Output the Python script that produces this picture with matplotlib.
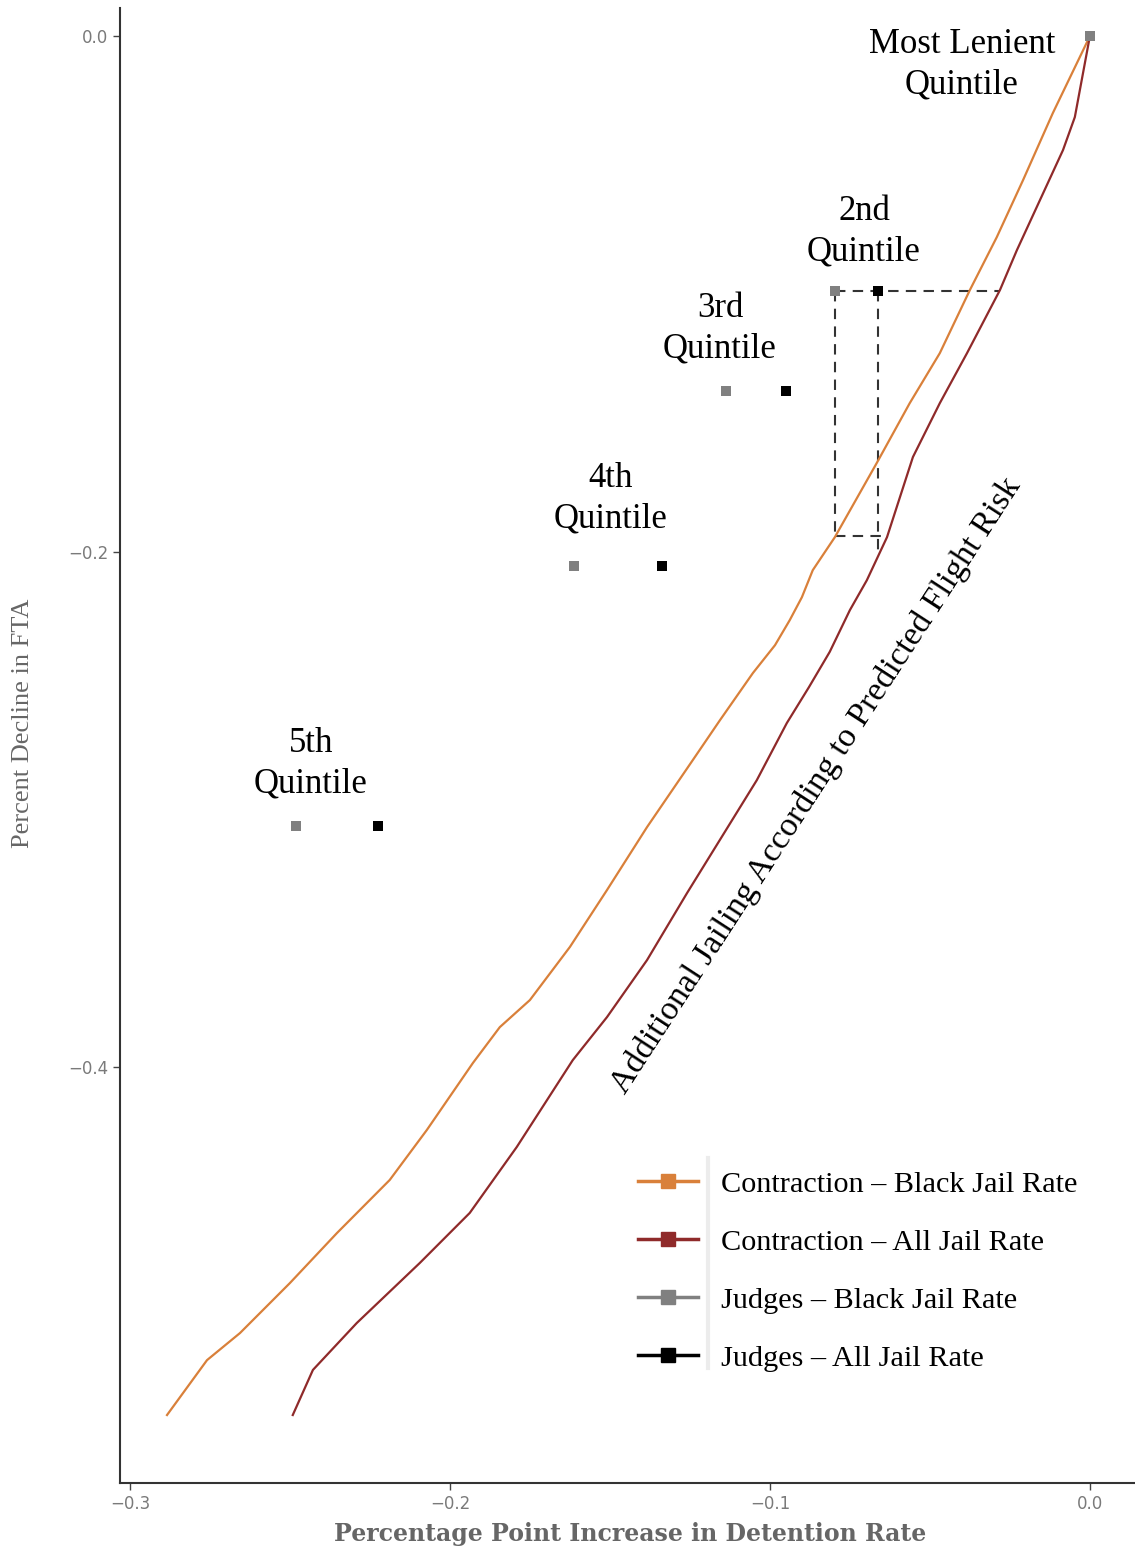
import matplotlib.pyplot as plt
import numpy as np
from matplotlib.lines import Line2D

# contraction curves: additional detention (x) vs change in FTA (y)
black_contraction_x = [0.0, -0.0116, -0.0209, -0.0291, -0.0375, -0.0469, -0.0563, -0.0666,
                       -0.0797, -0.0866, -0.0900, -0.0938, -0.0984, -0.1053, -0.1156, -0.1241,
                       -0.1384, -0.1509, -0.1625, -0.1750, -0.1844, -0.1928, -0.2072, -0.2188,
                       -0.2353, -0.2500, -0.2656, -0.2759, -0.2884]
black_contraction_y = [0.0, -0.0299, -0.0559, -0.0780, -0.0985, -0.1230, -0.1424, -0.1656,
                       -0.1944, -0.2072, -0.2177, -0.2266, -0.2363, -0.2471, -0.2654, -0.2809,
                       -0.3069, -0.3313, -0.3534, -0.3740, -0.3845, -0.3984, -0.4244, -0.4438,
                       -0.4644, -0.4838, -0.5032, -0.5137, -0.5350]
all_contraction_x = [0.0, -0.0047, -0.0084, -0.0166, -0.0228, -0.0281, -0.0384, -0.0469,
                     -0.0553, -0.0634, -0.0697, -0.0750, -0.0813, -0.0878, -0.0947, -0.1041,
                     -0.1259, -0.1384, -0.1509, -0.1616, -0.1791, -0.1938, -0.2094, -0.2291,
                     -0.2428, -0.2491]
all_contraction_y = [0.0, -0.0314, -0.0442, -0.0663, -0.0830, -0.0985, -0.1230, -0.1424,
                     -0.1633, -0.1944, -0.2111, -0.2227, -0.2389, -0.2526, -0.2665, -0.2887,
                     -0.3325, -0.3585, -0.3806, -0.3973, -0.4310, -0.4566, -0.4760, -0.4993,
                     -0.5175, -0.5350]

# judge leniency quintiles
quintile_labels = ["Most Lenient\nQuintile", "2nd\nQuintile", "3rd\nQuintile",
                   "4th\nQuintile", "5th\nQuintile"]
judges_fta = [0.0, -0.0989, -0.1377, -0.2056, -0.3065]
judges_black_x = [0.0, -0.0795, -0.1138, -0.1612, -0.2482]
judges_all_x = [0.0, -0.0661, -0.0951, -0.1338, -0.2226]

series_labels = ["Contraction \u2013 Black Jail Rate", "Contraction \u2013 All Jail Rate",
                 "Judges \u2013 Black Jail Rate", "Judges \u2013 All Jail Rate"]

ORANGE = "#d9803a"
DARKRED = "#8f2a2a"
GRAY = "#808080"
BLACK = "#000000"
SERIF = ["Liberation Serif", "DejaVu Serif"]

fig = plt.figure(figsize=(11.35, 15.51), dpi=100)
ax = fig.add_axes([0.1057, 0.0438, 0.8943, 0.951])

ax.plot(black_contraction_x, black_contraction_y, color=ORANGE, lw=1.6, zorder=3)
ax.plot(all_contraction_x, all_contraction_y, color=DARKRED, lw=1.6, zorder=3)

# dashed box around the 2nd quintile comparison
q2_y = judges_fta[1]
gx, bx = judges_black_x[1], judges_all_x[1]
ox_inc = np.array(black_contraction_x[::-1])
oy_inc = np.array(black_contraction_y[::-1])
ax_inc = np.array(all_contraction_x[::-1])
ay_inc = np.array(all_contraction_y[::-1])
red_at_q2 = np.interp(q2_y, ay_inc, ax_inc)
gray_low = np.interp(gx, ox_inc, oy_inc)
black_low = np.interp(bx, ax_inc, ay_inc)
red_at_low = np.interp(gray_low, ay_inc, ax_inc)
dash = dict(color="#333333", lw=1.5, ls=(0, (5, 3.5)), zorder=2)
ax.plot([gx, red_at_q2], [q2_y, q2_y], **dash)
ax.plot([gx, gx], [q2_y, gray_low], **dash)
ax.plot([bx, bx], [q2_y, black_low], **dash)
ax.plot([gx, red_at_low], [gray_low, gray_low], **dash)

ax.scatter(judges_all_x, judges_fta, marker="s", s=48, color=BLACK, zorder=4, lw=0)
ax.scatter(judges_black_x, judges_fta, marker="s", s=48, color=GRAY, zorder=4, lw=0)

label_pos = [(-0.0400, -0.0110), (-0.0706, -0.0758), (-0.1156, -0.1134),
             (-0.1497, -0.1794), (-0.2434, -0.2822)]
for txt, (tx, ty) in zip(quintile_labels, label_pos):
    ax.text(tx, ty, txt, ha="center", va="center", fontsize=25,
            family=SERIF, linespacing=1.3)

ax.text(-0.0856, -0.2906, "Additional Jailing According to Predicted Flight Risk",
        rotation=57, rotation_mode="anchor", ha="center", va="center",
        fontsize=24.5, family=SERIF)

handles = [
    Line2D([], [], color=ORANGE, lw=2.5, marker="s", ms=10),
    Line2D([], [], color=DARKRED, lw=2.5, marker="s", ms=10),
    Line2D([], [], color=GRAY, lw=2.5, marker="s", ms=10),
    Line2D([], [], color=BLACK, lw=2.5, marker="s", ms=10),
]
leg = ax.legend(handles, series_labels, loc="upper left", bbox_to_anchor=(0.510, 0.212),
                frameon=False, prop={"family": SERIF, "size": 21.8},
                handlelength=2.0, handletextpad=0.75, labelspacing=1.02,
                borderaxespad=0, borderpad=0)

# light separator strip beside the legend labels
fig.add_artist(Line2D([708 / 1135, 708 / 1135], [1 - 1158 / 1551, 1 - 1368 / 1551],
                      color="#ececec", lw=3))

ax.set_xlim(-0.3031, 0.0141)
ax.set_ylim(-0.5614, 0.0109)
ax.set_xticks([-0.3, -0.2, -0.1, 0.0])
ax.set_yticks([0.0, -0.2, -0.4])
ax.set_xticklabels(["\u22120.3", "\u22120.2", "\u22120.1", "0.0"])
ax.set_yticklabels(["0.0", "\u22120.2", "\u22120.4"])
ax.tick_params(colors="#444444", labelcolor="#7a7a7a", labelsize=12, length=5, width=1)

for side in ("top", "right"):
    ax.spines[side].set_visible(False)
for side in ("left", "bottom"):
    ax.spines[side].set_color("#333333")
    ax.spines[side].set_linewidth(1.5)

ax.set_xlabel("Percentage Point Increase in Detention Rate", family="DejaVu Serif",
              fontsize=17, color="#666666", fontweight="bold")
ax.xaxis.set_label_coords(0.503, -0.0262)
ax.set_ylabel("Percent Decline in FTA", family=SERIF, fontsize=19, color="#666666")
ax.yaxis.set_label_coords(-0.085, 0.515)

fig.savefig("out.png", dpi=100)
